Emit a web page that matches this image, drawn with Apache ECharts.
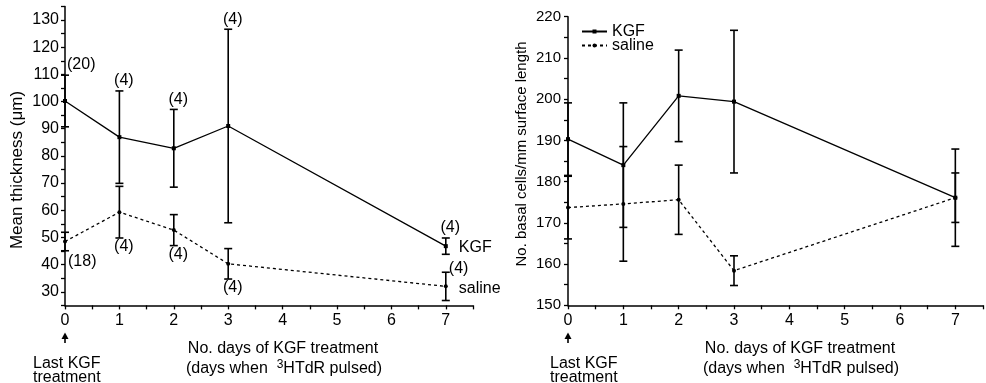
<!DOCTYPE html>
<html><head><meta charset="utf-8">
<script src="https://cdn.jsdelivr.net/npm/echarts@6/dist/echarts.min.js"></script>
<style>html,body{margin:0;padding:0;background:#fff}#c{width:986px;height:383px}</style>
</head><body><div id="c"></div>
<script>
// ---- data ----
const days = [0, 1, 2, 3, 7];
const xTickLabels = [0, 1, 2, 3, 4, 5, 6, 7];
const thickKGF = [100.2, 86.9, 82.8, 91.0, 46.8];
const thickKGFErr = [9.5, 17.0, 14.3, 35.6, 3.0];
const thickSaline = [48.5, 59.3, 52.7, 40.3, 32.0];
const thickSalineErr = [3.4, 9.5, 5.7, 5.6, 5.2];
const thickKGFn = ['(20)', '(4)', '(4)', '(4)', '(4)'];
const thickSalineN = ['(18)', '(4)', '(4)', '(4)', '(4)'];
const thickTickLabels = [30, 40, 50, 60, 70, 80, 90, 100, 110, 120, 130];
const basalKGF = [190.3, 184.0, 200.8, 199.4, 176.1];
const basalKGFErr = [8.8, 15.1, 11.1, 17.3, 11.8];
const basalSaline = [173.7, 174.6, 175.6, 158.4, 176.1];
const basalSalineErr = [7.6, 13.9, 8.4, 3.6, 6.0];
const basalTickLabels = [150, 160, 170, 180, 190, 200, 210, 220];

const FONT = 'Liberation Sans, Arial, Helvetica, sans-serif';
const BLACK = '#000';

const chart = echarts.init(document.getElementById('c'), null, {renderer: 'canvas'});

function xAxis(gridIndex) {
  return {
    type: 'value', gridIndex, min: 0, max: 7.5, interval: 0.5,
    axisLine: {show: true, lineStyle: {color: BLACK, width: 1.5}},
    axisTick: {show: true, length: 4, lineStyle: {color: BLACK, width: 1.3}},
    splitLine: {show: false},
    axisLabel: {
      color: BLACK, fontFamily: FONT, fontSize: 16, margin: 7,
      formatter: v => xTickLabels.includes(v) ? String(v) : ''
    }
  };
}
function yAxis(gridIndex, min, max, labels, fs, margin) {
  return {
    type: 'value', gridIndex, min, max, interval: 5,
    axisLine: {show: true, lineStyle: {color: BLACK, width: 1.5}},
    axisTick: {show: true, length: 4, lineStyle: {color: BLACK, width: 1.3}},
    splitLine: {show: false},
    axisLabel: {
      color: BLACK, fontFamily: FONT, fontSize: fs, margin,
      formatter: v => labels.includes(v) ? String(v) : ''
    }
  };
}

function errSeries(name, idx, means, errs) {
  return {
    type: 'custom', name, xAxisIndex: idx, yAxisIndex: idx, silent: true, z: 3,
    data: days.map((d, i) => [d, means[i] - errs[i], means[i] + errs[i]]),
    encode: {x: 0, y: [1, 2]},
    clip: false,
    renderItem(params, api) {
      const x = api.value(0);
      const lo = api.coord([x, api.value(1)]);
      const hi = api.coord([x, api.value(2)]);
      const w = 4;
      const style = {stroke: BLACK, lineWidth: 1.6, fill: null};
      return {type: 'group', children: [
        {type: 'line', shape: {x1: lo[0], y1: lo[1], x2: hi[0], y2: hi[1]}, style},
        {type: 'line', shape: {x1: lo[0] - w, y1: lo[1], x2: lo[0] + w, y2: lo[1]}, style},
        {type: 'line', shape: {x1: hi[0] - w, y1: hi[1], x2: hi[0] + w, y2: hi[1]}, style}
      ]};
    }
  };
}

function lineSeries(name, idx, vals, dashed, symbol, endLabel, endOffset) {
  const last = vals.length - 1;
  return {
    type: 'line', name, xAxisIndex: idx, yAxisIndex: idx, z: 4,
    data: days.map((d, i) => [d, vals[i]]),
    symbol, symbolSize: 4, showSymbol: true,
    itemStyle: {color: BLACK},
    lineStyle: {color: BLACK, width: 1.3, type: dashed ? [3, 3] : 'solid'},
    label: {
      show: !!endLabel, position: 'right', distance: 11, offset: endOffset || [0, 0],
      color: BLACK, fontFamily: FONT, fontSize: 16,
      formatter: p => p.dataIndex === last ? endLabel : ''
    },
    animation: false
  };
}

// annotation series (sample sizes)
function nSeries(idx, points, texts, labelCfgs) {
  return {
    type: 'scatter', xAxisIndex: idx, yAxisIndex: idx, symbolSize: 0, silent: true, z: 5,
    itemStyle: {color: BLACK, opacity: 1},
    data: points.map((p, i) => ({value: p, label: Object.assign({
      show: true, color: BLACK, opacity: 1, fontFamily: FONT, fontSize: 16
    }, labelCfgs[i])})),
    label: {
      show: true, color: BLACK, fontFamily: FONT, fontSize: 16,
      formatter: p => texts[p.dataIndex]
    },
    animation: false
  };
}

const kgfAnchors = days.map((d, i) => [d, thickKGF[i] + thickKGFErr[i]]);
const kgfLabelCfg = days.map((d, i) => i === 0
  ? {position: 'right', distance: 2, offset: [0, -11]}
  : {position: 'top', distance: 2, offset: [4.5, 0]});
const salAnchors = days.map((d, i) => i === days.length - 1
  ? [d, thickSaline[i] + thickSalineErr[i]]
  : [d, thickSaline[i] - thickSalineErr[i]]);
const salLabelCfg = days.map((d, i) => i === 0
  ? {position: 'right', distance: 3, offset: [0, 10.5]}
  : (i === days.length - 1
    ? {position: 'right', distance: 3, offset: [0, -4]}
    : {position: 'bottom', distance: 1, offset: [4.5, 0]}));

const textStyle = (extra) => Object.assign({fill: BLACK, fontFamily: FONT, fontSize: 16}, extra);

function bottomTexts(axisX, lastX, titleX) {
  return [
    {type: 'polygon', shape: {points: [[axisX, 332.5], [axisX - 3.5, 339], [axisX + 3.5, 339]]}, style: {fill: BLACK}},
    {type: 'line', shape: {x1: axisX, y1: 337, x2: axisX, y2: 343}, style: {stroke: BLACK, lineWidth: 1.6}},
    {type: 'text', x: lastX, y: 357, style: textStyle({text: 'Last KGF\ntreatment', lineHeight: 14, align: 'left', verticalAlign: 'top'})},
    {type: 'text', x: titleX, y: 349, style: textStyle({text: 'No. days of KGF treatment', align: 'center', verticalAlign: 'middle'})},
    {type: 'text', x: titleX + 1, y: 369, style: textStyle({
      text: '{a|(days when  }{s|3}{a|HTdR pulsed)}', align: 'center', verticalAlign: 'middle',
      rich: {
        a: {fontFamily: FONT, fontSize: 16, fill: BLACK, color: BLACK},
        s: {fontFamily: FONT, fontSize: 12, fill: BLACK, color: BLACK, verticalAlign: 'top', padding: [0, 0, 9, 0]}
      }
    })}
  ];
}

const option = {
  backgroundColor: '#fff',
  animation: false,
  textStyle: {fontFamily: FONT, color: BLACK},
  grid: [
    {left: 65, width: 408, top: 6.4, height: 299, containLabel: false},
    {left: 568, width: 415, top: 16.7, height: 288.6, containLabel: false}
  ],
  xAxis: [xAxis(0), xAxis(1)],
  yAxis: [
    yAxis(0, 25, 135, thickTickLabels, 16, 6),
    yAxis(1, 150, 220, basalTickLabels, 15, 7)
  ],
  legend: {
    data: ['KGF', 'saline'], orient: 'vertical', left: 576, top: 18.5,
    itemWidth: 25, itemHeight: 5, itemGap: -2,
    selectedMode: false,
    textStyle: {color: BLACK, fontFamily: FONT, fontSize: 16, lineHeight: 13}
  },
  series: [
    errSeries('errK0', 0, thickKGF, thickKGFErr),
    errSeries('errS0', 0, thickSaline, thickSalineErr),
    lineSeries('KGF', 0, thickKGF, false, 'rect', 'KGF', [0, 1.6]),
    lineSeries('saline', 0, thickSaline, true, 'circle', 'saline', [0, 2.6]),
    nSeries(0, kgfAnchors, thickKGFn, kgfLabelCfg),
    nSeries(0, salAnchors, thickSalineN, salLabelCfg),
    errSeries('errK1', 1, basalKGF, basalKGFErr),
    errSeries('errS1', 1, basalSaline, basalSalineErr),
    lineSeries('KGF', 1, basalKGF, false, 'rect', null),
    lineSeries('saline', 1, basalSaline, true, 'circle', null)
  ],
  graphic: [
    {type: 'text', x: 17, y: 170, rotation: Math.PI / 2, style: textStyle({text: 'Mean thickness (\u03bcm)', fontSize: 17, align: 'center', verticalAlign: 'middle'})},
    {type: 'text', x: 522, y: 154, rotation: Math.PI / 2, style: textStyle({text: 'No. basal cells/mm surface length', fontSize: 15, align: 'center', verticalAlign: 'middle'})},
    ...bottomTexts(65, 33, 283),
    ...bottomTexts(568, 550, 800)
  ]
};
chart.setOption(option);
</script>
</body></html>
